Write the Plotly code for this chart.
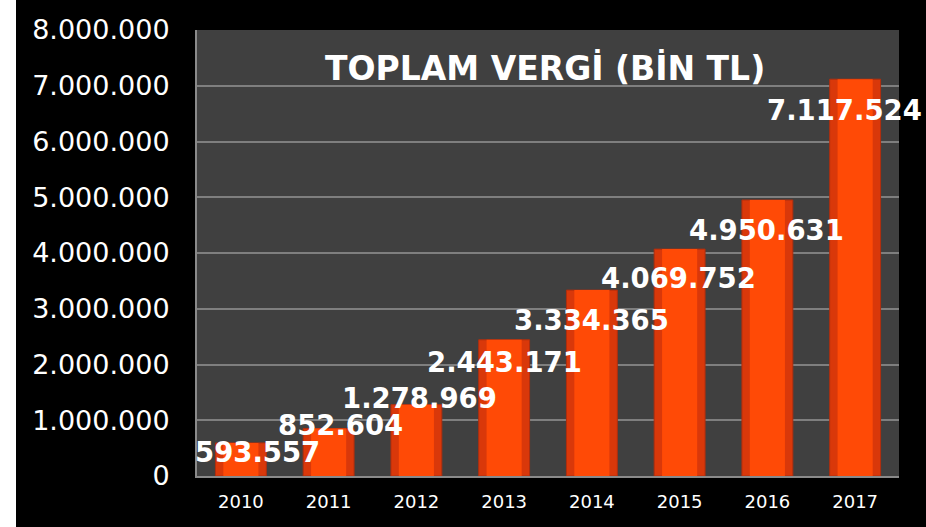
import plotly.graph_objects as go

years = ["2010", "2011", "2012", "2013", "2014", "2015", "2016", "2017"]
values = [593557, 852604, 1278969, 2443171, 3334365, 4069752, 4950631, 7117524]
labels = ["593.557", "852.604", "1.278.969", "2.443.171", "3.334.365", "4.069.752", "4.950.631", "7.117.524"]
tick_vals = [0, 1000000, 2000000, 3000000, 4000000, 5000000, 6000000, 7000000, 8000000]
tick_text = ["0", "1.000.000", "2.000.000", "3.000.000", "4.000.000", "5.000.000", "6.000.000", "7.000.000", "8.000.000"]
title_text = "TOPLAM VERGİ (BİN TL)"

# label offsets in pixels (style only)
label_dx = [17, 12, 3, 0, 0, -1, -1, -11]
label_dy = [-9, 3, 7, -22, -30, -29, -30, -31]

fig = go.Figure()
# outer (darker edge) bar
fig.add_trace(go.Bar(
    x=years, y=values, width=0.58,
    marker=dict(color="#D9380A", line=dict(color="#B02E0E", width=1)),
    hoverinfo="x+y",
))
# inner brighter body to mimic the glossy gradient
fig.add_trace(go.Bar(
    x=years, y=values, width=0.40,
    marker=dict(color="#FF4A06", line=dict(width=0)),
    hoverinfo="skip",
))

# annotations placed by category index on the category axis
for i, (v, lab, dx, dy) in enumerate(zip(values, labels, label_dx, label_dy)):
    fig.add_annotation(x=i, y=v, text=lab, showarrow=False,
                       xshift=dx, yshift=dy, yanchor="middle", xanchor="center",
                       font=dict(family="DejaVu Sans", size=27.5, color="white", weight="bold"))

fig.add_annotation(x=0.496, y=0.915, xref="paper", yref="paper", text=title_text,
                   showarrow=False, xanchor="center", yanchor="middle",
                   font=dict(family="DejaVu Sans", size=33, color="white", weight="bold"))

# white strip at the left edge of the page
fig.add_shape(type="rect", xref="paper", yref="paper",
              x0=-0.40, x1=-181.0 / 702, y0=-0.2, y1=1.2,
              fillcolor="white", line=dict(width=0), layer="above")

fig.update_layout(
    width=926, height=527,
    margin=dict(l=197, r=27, t=30, b=51),
    paper_bgcolor="black", plot_bgcolor="#404040",
    barmode="overlay", showlegend=False,
    xaxis=dict(type="category", categoryorder="array", categoryarray=years,
               range=[-0.5, len(years) - 0.5],
               showgrid=False, showline=True, linecolor="#8a8a8a", linewidth=2,
               tickfont=dict(family="DejaVu Sans", size=18, color="white"),
               ticks="", ticklabelstandoff=8),
    yaxis=dict(range=[0, 8000000], tickvals=tick_vals, ticktext=tick_text,
               showgrid=True, gridcolor="#7f7f7f", gridwidth=2,
               showline=True, linecolor="#8a8a8a", linewidth=2, zeroline=False,
               tickfont=dict(family="DejaVu Sans", size=27, color="white"),
               ticks="", ticklabelstandoff=20),
)

post = ("document.body.style.margin='0';"
        "document.body.style.overflow='hidden';")

fig.write_html("out.html", post_script=post, config={"displayModeBar": False})
